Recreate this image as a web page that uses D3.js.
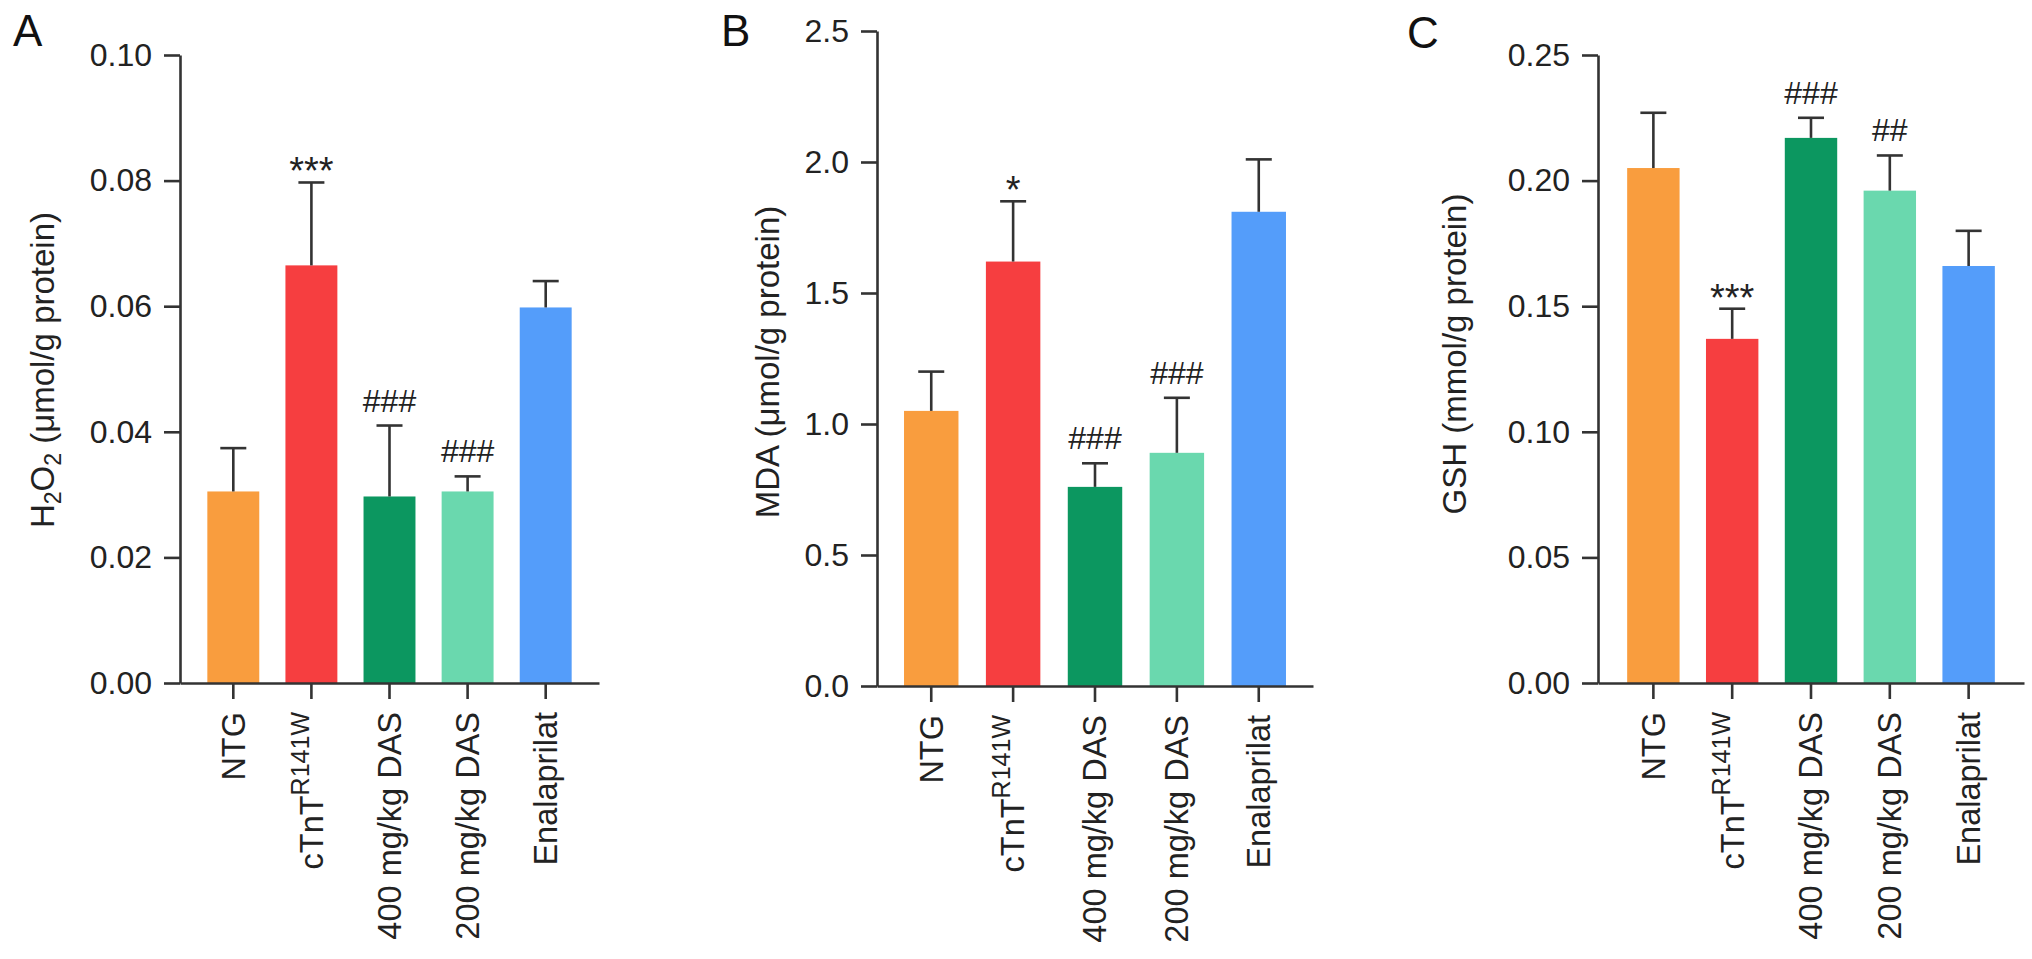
<!DOCTYPE html>
<html>
<head>
<meta charset="utf-8">
<script src="https://cdn.jsdelivr.net/npm/d3@7"></script>
<style>
  body { margin: 0; background: #fff; }
  svg { display: block; font-family: "Liberation Sans", Arial, Helvetica, sans-serif; }
  .axis path, .axis line { stroke: #333; stroke-width: 2.6px; }
  .axis text { font-size: 32px; fill: #222; }
</style>
</head>
<body>
<svg id="fig" width="2032" height="959"></svg>
<script>
// groups and colours (same in all three panels)
var groups = ["NTG", "cTnT^R141W", "400 mg/kg DAS", "200 mg/kg DAS", "Enalaprilat"];
var barColors = ["#F99D3E", "#F63E40", "#0C9760", "#6AD8AE", "#549DFA"];

// A: H2O2
var h2o2Mean = [0.0305, 0.0665, 0.0297, 0.0305, 0.0598];
var h2o2Sem = [0.0069, 0.0132, 0.0113, 0.0024, 0.0042];
var h2o2Marks = ["", "***", "###", "###", ""];
var h2o2Ticks = [0, 0.02, 0.04, 0.06, 0.08, 0.10];

// B: MDA
var mdaMean = [1.05, 1.62, 0.76, 0.89, 1.81];
var mdaSem = [0.15, 0.23, 0.09, 0.21, 0.20];
var mdaMarks = ["", "*", "###", "###", ""];
var mdaTicks = [0, 0.5, 1.0, 1.5, 2.0, 2.5];

// C: GSH
var gshMean = [0.205, 0.137, 0.217, 0.196, 0.166];
var gshSem = [0.022, 0.012, 0.008, 0.014, 0.014];
var gshMarks = ["", "***", "###", "##", ""];
var gshTicks = [0, 0.05, 0.10, 0.15, 0.20, 0.25];

// y labels as [text, "sub"?] pieces
var h2o2Label = [["H"], ["2", "sub"], ["O"], ["2", "sub"], [" (\u03bcmol/g protein)"]];
var mdaLabel = [["MDA (\u03bcmol/g protein)"]];
var gshLabel = [["GSH (mmol/g protein)"]];

var panels = [
  {letter: "A", mean: h2o2Mean, sem: h2o2Sem, marks: h2o2Marks, ticks: h2o2Ticks, fmt: ".2f", label: h2o2Label,
   x0: 180, x1: 599, yTop: 55, yBase: 683, padOuter: 0.35, labelX: 42, labelY: 370, letterX: 13, letterY: 46},
  {letter: "B", mean: mdaMean, sem: mdaSem, marks: mdaMarks, ticks: mdaTicks, fmt: ".1f", label: mdaLabel,
   x0: 877, x1: 1313, yTop: 31, yBase: 686, padOuter: 0.33, labelX: 767, labelY: 362, letterX: 721, letterY: 46},
  {letter: "C", mean: gshMean, sem: gshSem, marks: gshMarks, ticks: gshTicks, fmt: ".2f", label: gshLabel,
   x0: 1598, x1: 2024, yTop: 55, yBase: 683, padOuter: 0.37, labelX: 1454, labelY: 354, letterX: 1407, letterY: 48}
];

var svg = d3.select("#fig");

panels.forEach(function (p) {
  var g = svg.append("g");

  var x = d3.scaleBand().domain(groups).range([p.x0, p.x1])
      .paddingInner(0.335).paddingOuter(p.padOuter);
  var y = d3.scaleLinear().domain([0, p.ticks[p.ticks.length - 1]]).range([p.yBase, p.yTop]);

  // bars
  g.selectAll("rect.bar").data(groups).enter().append("rect")
      .attr("class", "bar")
      .attr("x", function (d) { return x(d); })
      .attr("width", x.bandwidth())
      .attr("y", function (d, i) { return y(p.mean[i]); })
      .attr("height", function (d, i) { return y(0) - y(p.mean[i]); })
      .style("fill", function (d, i) { return barColors[i]; });

  // error bars (upper only)
  var eb = g.selectAll("g.err").data(groups).enter().append("g").attr("class", "err")
      .style("stroke", "#333").style("stroke-width", 2.6);
  eb.append("line")
      .attr("x1", function (d) { return x(d) + x.bandwidth() / 2; })
      .attr("x2", function (d) { return x(d) + x.bandwidth() / 2; })
      .attr("y1", function (d, i) { return y(p.mean[i]); })
      .attr("y2", function (d, i) { return y(p.mean[i] + p.sem[i]); });
  eb.append("line")
      .attr("x1", function (d) { return x(d) + x.bandwidth() / 2 - 13; })
      .attr("x2", function (d) { return x(d) + x.bandwidth() / 2 + 13; })
      .attr("y1", function (d, i) { return y(p.mean[i] + p.sem[i]); })
      .attr("y2", function (d, i) { return y(p.mean[i] + p.sem[i]); });

  // significance marks
  g.selectAll("text.mark").data(groups).enter().append("text")
      .attr("class", "mark")
      .attr("x", function (d) { return x(d) + x.bandwidth() / 2; })
      .attr("y", function (d, i) {
        var top = y(p.mean[i] + p.sem[i]);
        return p.marks[i].charAt(0) == "*" ? top + 2 : top - 14;
      })
      .attr("text-anchor", "middle")
      .style("font-size", function (d, i) { return p.marks[i].charAt(0) == "*" ? "38px" : "32px"; })
      .style("fill", "#222")
      .text(function (d, i) { return p.marks[i]; });

  // y axis
  g.append("g").attr("class", "axis")
      .attr("transform", "translate(" + p.x0 + ",0)")
      .call(d3.axisLeft(y).tickValues(p.ticks).tickFormat(d3.format(p.fmt))
        .tickSize(16).tickSizeOuter(0).tickPadding(12));

  // x axis
  var xa = g.append("g").attr("class", "axis")
      .attr("transform", "translate(0," + p.yBase + ")")
      .call(d3.axisBottom(x).tickSize(16).tickSizeOuter(0).tickFormat(""));
  xa.selectAll(".tick text").remove();
  xa.selectAll(".tick").append("text")
      .attr("transform", "rotate(-90)")
      .attr("x", -29)
      .attr("y", 0)
      .attr("dy", "0.35em")
      .attr("text-anchor", "end")
      .style("font-size", "32.5px")
      .each(function (d) {
        var parts = d.split("^");
        var t = d3.select(this);
        t.append("tspan").text(parts[0]);
        if (parts[1]) {
          t.append("tspan").attr("dy", -14).style("font-size", "25px").text(parts[1]);
        }
      });

  // y label
  var yl = g.append("text")
      .attr("transform", "translate(" + p.labelX + "," + p.labelY + ") rotate(-90)")
      .attr("text-anchor", "middle")
      .attr("dy", "0.35em")
      .style("font-size", "33px")
      .style("fill", "#222");
  var shifted = false;
  p.label.forEach(function (piece) {
    var ts = yl.append("tspan").text(piece[0]);
    if (piece[1] == "sub") {
      ts.attr("dy", shifted ? null : 7).style("font-size", "23px");
      shifted = true;
    } else if (shifted) {
      ts.attr("dy", -7);
      shifted = false;
    }
  });

  // panel letter
  g.append("text")
      .attr("x", p.letterX)
      .attr("y", p.letterY)
      .style("font-size", "44px")
      .style("fill", "#111")
      .text(p.letter);
});
</script>
</body>
</html>
